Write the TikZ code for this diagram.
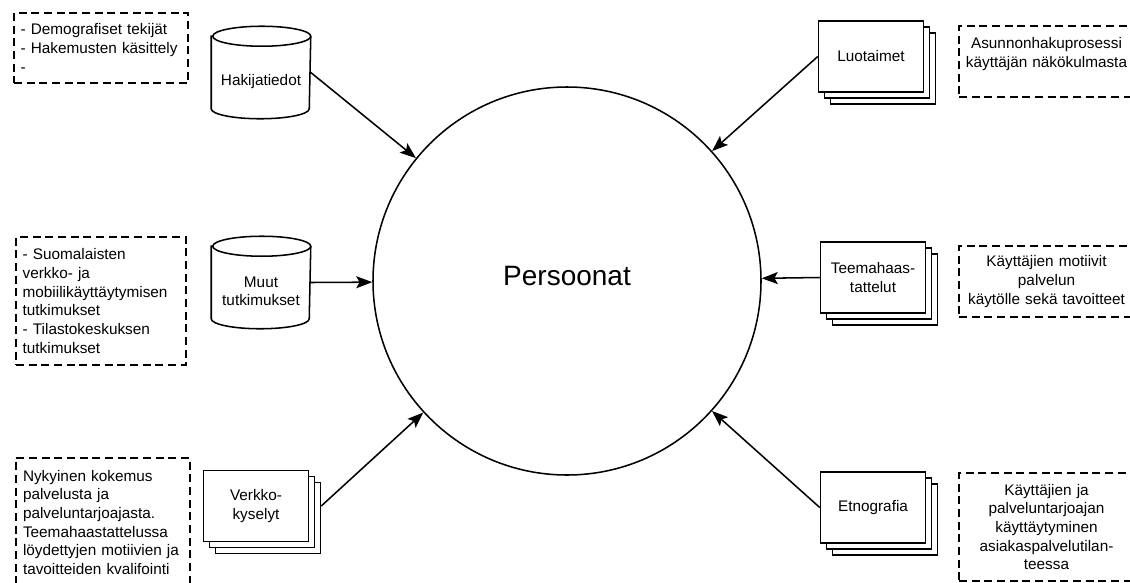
\documentclass[tikz,border=0pt]{standalone}
\usepackage{fontspec}
\setmainfont{Liberation Sans}
\usetikzlibrary{arrows.meta,calc}

\tikzset{
  txt/.style={font=\fontsize{11.5}{14}\selectfont},
  note/.style={txt, draw, dash pattern=on 6pt off 3.5pt, inner ysep=2pt},
  noteleft/.style={note, align=left},
  noteright/.style={note, align=center, minimum width=131.25pt, text width=121.25pt, inner xsep=5pt},
  card/.style={txt, draw, fill=white, align=center, minimum width=78.75pt, minimum height=53.25pt, inner sep=0pt},
  drumbox/.style={minimum width=73.5pt, minimum height=68.25pt, inner sep=0pt},
  hub/.style={circle, draw, minimum size=291pt, inner sep=0pt, font=\fontsize{21}{25}\selectfont},
  link/.style={-{Stealth[length=12pt,width=9pt,inset=2.5pt]}}
}

% stack of three cards: name, position, text
\newcommand\cardstack[3]{%
  \node[card] at ($(#2)+(12,-12)$) {};
  \node[card] at ($(#2)+(6,-6)$) {};
  \node[card] (#1) at (#2) {#3};}

% database cylinder: name, position, text
\newcommand\drum[3]{%
  \node[drumbox] (#1) at (#2) {};
  \draw[fill=white] ([yshift=-7.5pt]#1.north west) -- ([yshift=7.5pt]#1.south west)
    arc[start angle=180, end angle=360, x radius=36.75pt, y radius=7.5pt]
    -- ([yshift=-7.5pt]#1.north east)
    arc[start angle=0, end angle=180, x radius=36.75pt, y radius=7.5pt] -- cycle;
  \draw ([yshift=-7.5pt]#1.north east)
    arc[start angle=0, end angle=-180, x radius=36.75pt, y radius=7.5pt];
  \node[txt, align=center] at ([yshift=-6.5pt]#1.center) {#3};}

\begin{document}
\begin{tikzpicture}[x=0.75pt, y=0.75pt, line width=1.15pt]
\useasboundingbox (0,0) rectangle (1130,-582);
\clip (0,0) rectangle (1130,-582);

% central hub
\node[hub] (hub) at (567,-281) {\raisebox{7.5pt}{Persoonat}};

% data sources on the left
\drum{hak}{261,-72.5}{Hakijatiedot}
\drum{muut}{261,-282.5}{Muut\\tutkimukset}
\cardstack{verk}{256,-506}{Verkko-\\kyselyt}

% data sources on the right
\cardstack{luo}{871,-56.5}{Luotaimet}
\cardstack{teem}{873,-277.5}{Teemahaas-\\tattelut}
\cardstack{etno}{873,-507.5}{Etnografia}

% notes on the left
\node[noteleft, minimum width=130.5pt, text width=120.5pt, inner xsep=5pt, minimum height=52.5pt]
  (n1) at (101,-48) {- Demografiset tekijät\\- Hakemusten käsittely\\-};
\node[noteleft, minimum width=127.5pt, text width=117.5pt, inner xsep=5pt, minimum height=96pt]
  (n2) at (101,-301) {- Suomalaisten\\verkko- ja\\mobiilikäyttäytymisen\\tutkimukset\\- Tilastokeskuksen\\tutkimukset};
\node[noteleft, minimum width=130.5pt, text width=120pt, inner xsep=5.25pt, minimum height=96.75pt]
  (n3) at (103,-522.5) {Nykyinen kokemus\\palvelusta ja\\palveluntarjoajasta.\\Teemahaastattelussa\\löydettyjen motiivien ja\\tavoitteiden kvalifointi};

% notes on the right
\node[noteright, minimum height=53.25pt] (n4) at (1046.5,-61.5)
  {Asunnonhakuprosessi\\käyttäjän näkökulmasta\\\mbox{}};
\node[noteright, minimum height=53.25pt] (n5) at (1046.5,-281.5)
  {Käyttäjien motiivit\\palvelun\\käytölle sekä tavoitteet};
\node[noteright, minimum height=81pt] (n6) at (1046.5,-527)
  {Käyttäjien ja\\palveluntarjoajan\\käyttäytyminen\\asiakaspalvelutilan-\\teessa};

% connectors into the hub
\draw[link] (hak.east) -- (hub);
\draw[link] (muut.east) -- (hub);
\draw[link] ([xshift=9pt]verk.east) -- (hub);
\draw[link] (luo.west) -- (hub);
\draw[link] (teem.west) -- (hub);
\draw[link] (etno.west) -- (hub);
\end{tikzpicture}
\end{document}
